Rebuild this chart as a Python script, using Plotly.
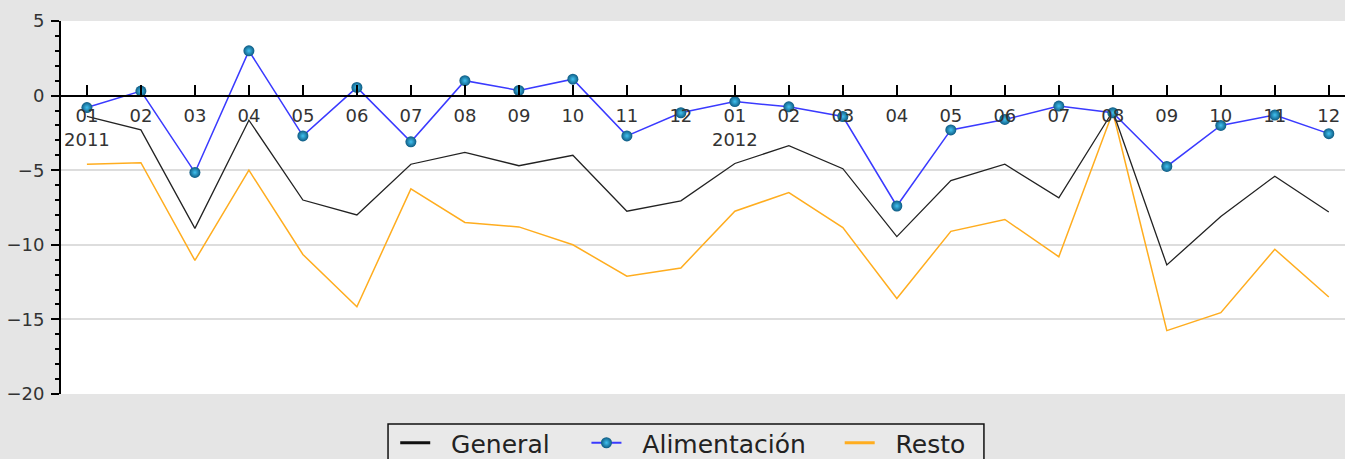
import plotly.graph_objects as go

# months Jan 2011 .. Dec 2012
tick_labels = ["01<br>2011", "02", "03", "04", "05", "06", "07", "08", "09", "10", "11", "12",
               "01<br>2012", "02", "03", "04", "05", "06", "07", "08", "09", "10", "11", "12"]
months = list(range(len(tick_labels)))

general = [-1.4, -2.3, -8.9, -1.65, -7.0, -8.0, -4.6, -3.8, -4.7, -4.0, -7.75, -7.05,
           -4.55, -3.35, -4.9, -9.45, -5.7, -4.6, -6.85, -1.05, -11.35, -8.1, -5.4, -7.8]
alimentacion = [-0.8, 0.3, -5.15, 3.0, -2.7, 0.55, -3.1, 1.0, 0.35, 1.1, -2.7, -1.15,
                -0.4, -0.75, -1.4, -7.4, -2.3, -1.6, -0.7, -1.15, -4.75, -2.0, -1.3, -2.55]
resto = [-4.6, -4.5, -11.05, -5.0, -10.65, -14.15, -6.25, -8.5, -8.8, -10.0, -12.1, -11.55,
         -7.75, -6.5, -8.85, -13.6, -9.1, -8.3, -10.8, -1.1, -15.75, -14.55, -10.3, -13.5]

sp = "\u00a0"
ball = dict(size=11, color="#0d5a82", gradient=dict(type="radial", color="#42c2f0"),
            line=dict(width=0))

fig = go.Figure()
fig.add_trace(go.Scatter(x=months, y=resto, name="Resto", mode="lines", showlegend=False,
                         line=dict(color="#ffad1f", width=1.5)))
fig.add_trace(go.Scatter(x=months, y=general, name="General", mode="lines", showlegend=False,
                         line=dict(color="#222222", width=1.3)))
fig.add_trace(go.Scatter(x=months, y=alimentacion, name="Alimentación", mode="lines+markers",
                         showlegend=False, line=dict(color="#3a3aff", width=1.5), marker=ball))

# legend entries (heavier key lines, as in the original legend)
fig.add_trace(go.Scatter(x=[None], y=[None], mode="lines", name=sp * 2 + "General" + sp * 4,
                         line=dict(color="#111111", width=3)))
fig.add_trace(go.Scatter(x=[None], y=[None], mode="lines+markers",
                         name=sp * 2 + "Alimentación" + sp * 3 + "\u2009",
                         line=dict(color="#3a3aff", width=2), marker=ball))
fig.add_trace(go.Scatter(x=[None], y=[None], mode="lines", name=sp * 2 + "Resto",
                         line=dict(color="#ffad1f", width=3)))

# legend frame (cut off by the bottom edge like the original)
fig.add_shape(type="rect", xref="paper", yref="paper", x0=0.2547, x1=0.7188, y0=-0.0804, y1=-0.3,
              line=dict(color="#111111", width=1.5), fillcolor="#e9e9e9", layer="below")

fig.update_layout(
    width=1345, height=459,
    margin=dict(l=61, r=0, t=21, b=65, autoexpand=False),
    paper_bgcolor="#e5e5e5",
    plot_bgcolor="white",
    font=dict(family="DejaVu Sans", color="#333333"),
    showlegend=True,
    legend=dict(orientation="h", x=0.2603, xanchor="left", y=-0.1314, yanchor="middle",
                bgcolor="rgba(0,0,0,0)", borderwidth=0,
                font=dict(size=25, color="#222222"), traceorder="normal"),
    xaxis=dict(range=[-0.48, 23.3], tickmode="array", tickvals=months, ticktext=tick_labels,
               anchor="free", position=0.8, showline=True, linecolor="black", linewidth=2,
               ticks="inside", ticklen=10, tickwidth=1.5, tickcolor="black",
               ticklabelstandoff=4,
               showgrid=False, zeroline=False, tickfont=dict(size=18, color="#333333")),
    yaxis=dict(range=[-20, 5], dtick=5, showline=True, linecolor="black", linewidth=2,
               ticks="outside", ticklen=8, tickwidth=2, tickcolor="black",
               gridcolor="#dddddd", gridwidth=1.5, zeroline=False,
               ticklabelstandoff=3,
               tickfont=dict(size=18, color="#333333"),
               minor=dict(dtick=1, ticks="outside", ticklen=4, tickcolor="black",
                          tickwidth=1.5, showgrid=False)),
)

fig.write_html("out.html", config={"displayModeBar": False},
               post_script="document.body.style.margin='0';")
